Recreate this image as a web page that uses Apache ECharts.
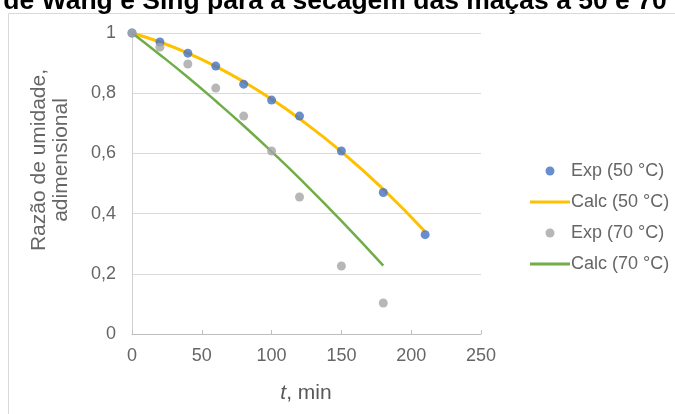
<!DOCTYPE html>
<html>
<head>
<meta charset="utf-8">
<script src="https://cdn.jsdelivr.net/npm/echarts@6/dist/echarts.min.js"></script>
<style>html,body{margin:0;padding:0;background:#fff}#c{width:675px;height:414px}</style>
</head>
<body>
<div id="c"></div>
<script>
// ---- data ----
const titleText = 'de Wang e Sing para a secagem das maçãs a 50 e 70';
const seriesNames = ['Exp (50 °C)', 'Calc (50 °C)', 'Exp (70 °C)', 'Calc (70 °C)'];
const exp50T = [0, 20, 40, 60, 80, 100, 120, 150, 180, 210];
const exp50MR = [1, 0.97, 0.933, 0.89, 0.83, 0.777, 0.724, 0.608, 0.47, 0.33];
const calc50T = [0, 20, 40, 60, 80, 100, 120, 150, 180, 210];
const calc50MR = [1, 0.97, 0.933, 0.889, 0.838, 0.78, 0.715, 0.606, 0.481, 0.34];
const exp70T = [0, 20, 40, 60, 80, 100, 120, 150, 180];
const exp70MR = [1, 0.953, 0.897, 0.817, 0.724, 0.608, 0.455, 0.226, 0.103];
const calc70T = [0, 20, 40, 60, 80, 100, 120, 150, 180];
const calc70MR = [1, 0.928, 0.853, 0.774, 0.692, 0.606, 0.517, 0.376, 0.227];
const xTicks = [0, 50, 100, 150, 200, 250];
const yTicks = [0, 0.2, 0.4, 0.6, 0.8, 1];

const pairs = (t, v) => t.map((x, i) => [x, v[i]]);
const colors = ['#4472c4', '#ffc000', '#a5a5a5', '#70ad47'];
const FONT = '"Liberation Sans", Arial, sans-serif';
const lineIcon = 'path://M0,0 L40,0 L40,3 L0,3 Z';

const chart = echarts.init(document.getElementById('c'), null, {renderer: 'canvas'});
chart.setOption({
  animation: false,
  backgroundColor: '#fff',
  graphic: [
    {type: 'rect', shape: {x: 8.5, y: 13.5, width: 720, height: 440}, style: {fill: 'none', stroke: '#d9d9d9', lineWidth: 1}, z: -1},
    {type: 'text', x: 335, y: 2, style: {text: titleText, fill: '#000', font: 'bold 26.5px ' + FONT, align: 'center', verticalAlign: 'middle'}},
    {type: 'text', x: 306, y: 393, style: {
      rich: {i: {fontStyle: 'italic', fontSize: 21, fontFamily: FONT, fill: '#595959'},
             n: {fontSize: 21, fontFamily: FONT, fill: '#595959'}},
      text: '{i|t}{n|, min}', align: 'center', verticalAlign: 'middle'}},
    {type: 'text', x: 39, y: 160, rotation: Math.PI / 2, style: {text: 'Razão de umidade,', fill: '#666', font: '21px ' + FONT, align: 'center', verticalAlign: 'middle'}},
    {type: 'text', x: 61, y: 160, rotation: Math.PI / 2, style: {text: 'adimensional', fill: '#666', font: '21px ' + FONT, align: 'center', verticalAlign: 'middle'}}
  ],
  grid: {left: 132, right: 194, top: 33, bottom: 80, containLabel: false},
  xAxis: {
    type: 'value', min: xTicks[0], max: xTicks[xTicks.length - 1], interval: xTicks[1] - xTicks[0],
    axisLine: {show: true, lineStyle: {color: '#bfbfbf', width: 1}},
    axisTick: {show: true, inside: true, length: 4, lineStyle: {color: '#bfbfbf'}},
    splitLine: {show: false},
    axisLabel: {color: '#666', fontSize: 18, fontFamily: FONT, margin: 13}
  },
  yAxis: {
    type: 'value', min: yTicks[0], max: yTicks[yTicks.length - 1], interval: yTicks[1] - yTicks[0],
    axisLine: {show: true, lineStyle: {color: '#d0d0d0', width: 1}},
    axisTick: {show: false},
    splitLine: {show: true, lineStyle: {color: '#d9d9d9', width: 1}},
    axisLabel: {color: '#666', fontSize: 18, fontFamily: FONT, margin: 16,
      formatter: v => String(Number(v.toFixed(1))).replace('.', ',')}
  },
  legend: {
    orient: 'vertical', left: 525, top: 157, itemWidth: 40, itemHeight: 9, itemGap: 13,
    textStyle: {color: '#666', fontSize: 18, fontFamily: FONT, padding: [0, 0, 0, -4]},
    data: [
      {name: seriesNames[0], icon: 'circle'},
      {name: seriesNames[1], icon: lineIcon},
      {name: seriesNames[2], icon: 'circle'},
      {name: seriesNames[3], icon: lineIcon}
    ]
  },
  series: [
    {name: seriesNames[0], type: 'scatter', data: pairs(exp50T, exp50MR), symbol: 'circle', symbolSize: 9, itemStyle: {color: colors[0]}, z: 4},
    {name: seriesNames[1], type: 'line', data: pairs(calc50T, calc50MR), smooth: true, symbol: 'none', lineStyle: {color: colors[1], width: 3}, itemStyle: {color: colors[1]}, z: 3},
    {name: seriesNames[2], type: 'scatter', data: pairs(exp70T, exp70MR), symbol: 'circle', symbolSize: 9, itemStyle: {color: colors[2]}, z: 4},
    {name: seriesNames[3], type: 'line', data: pairs(calc70T, calc70MR), smooth: true, symbol: 'none', lineStyle: {color: colors[3], width: 2.5}, itemStyle: {color: colors[3]}, z: 3}
  ]
});
</script>
</body>
</html>
